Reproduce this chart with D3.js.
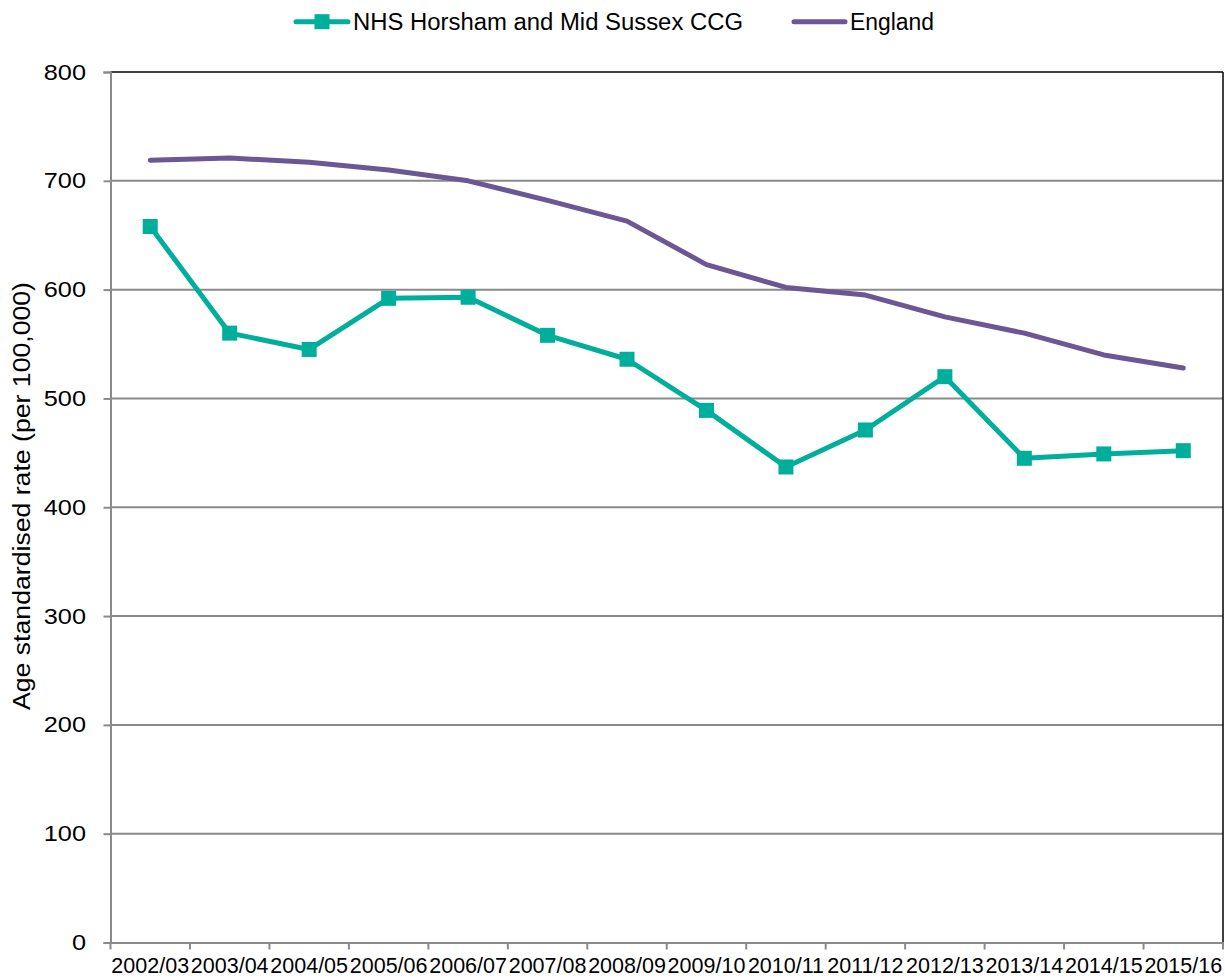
<!DOCTYPE html>
<html>
<head>
<meta charset="utf-8">
<script src="https://cdn.jsdelivr.net/npm/d3@7"></script>
<style>
  html, body { margin: 0; padding: 0; background: #fff; }
  svg { display: block; font-family: "Liberation Sans", Arial, sans-serif; }
</style>
</head>
<body>
<svg id="chart" width="1225" height="978"></svg>
<script>
const categories = ["2002/03","2003/04","2004/05","2005/06","2006/07","2007/08","2008/09","2009/10","2010/11","2011/12","2012/13","2013/14","2014/15","2015/16"];
const ccgValues = [658, 560, 545, 592, 593, 558, 536, 489, 437, 471, 520, 445, 449, 452];
const englandValues = [719, 721, 717, 710, 700, 682, 663, 623, 602, 595, 575, 560, 540, 528];
const yTicks = [0, 100, 200, 300, 400, 500, 600, 700, 800];
const seriesNames = ["NHS Horsham and Mid Sussex CCG", "England"];

(function () {
const teal = "#00ae9c";
const purple = "#6b5794";
const gridColor = "#8a8a8a";
const FONT = "'Liberation Sans', Arial, sans-serif";

const svg = d3.select("#chart");
const pLeft = 110.5, pRight = 1223, pTop = 72, pBottom = 942.5;

const x = d3.scaleBand().domain(categories).range([pLeft, pRight]).padding(0);
const y = d3.scaleLinear().domain([0, 800]).range([pBottom, pTop]);

function stretch(sel, f) {
  sel.each(function () {
    const len = this.getComputedTextLength();
    d3.select(this).attr("textLength", len * f).attr("lengthAdjust", "spacingAndGlyphs");
  });
}

// gridlines
svg.append("g").selectAll("line").data(yTicks.filter(d => d > 0 && d < 800)).join("line")
  .attr("x1", pLeft).attr("x2", pRight)
  .attr("y1", d => y(d)).attr("y2", d => y(d))
  .attr("stroke", gridColor).attr("stroke-width", 2);

// top and right border
svg.append("line").attr("x1", pLeft).attr("x2", pRight).attr("y1", pTop).attr("y2", pTop)
  .attr("stroke", "#000").attr("stroke-width", 1.5);
svg.append("line").attr("x1", pRight).attr("x2", pRight).attr("y1", pTop).attr("y2", pBottom)
  .attr("stroke", "#000").attr("stroke-width", 1.5);

// y axis
const yAxis = d3.axisLeft(y).tickValues(yTicks).tickSize(7).tickPadding(17.5).tickFormat(d3.format("d"));
const yg = svg.append("g").attr("transform", `translate(${pLeft},0)`).call(yAxis);
yg.attr("font-size", 22).attr("font-family", FONT);
yg.select(".domain").attr("stroke", gridColor).attr("stroke-width", 2);
yg.selectAll(".tick line").attr("stroke", gridColor).attr("stroke-width", 2);
yg.selectAll(".tick text").attr("fill", "#000");
stretch(yg.selectAll(".tick text"), 1.15);

// x axis
const xAxis = d3.axisBottom(x).tickSize(0).tickPadding(15.5);
const xg = svg.append("g").attr("transform", `translate(0,${pBottom})`).call(xAxis);
xg.attr("font-size", 21.5).attr("font-family", FONT);
xg.select(".domain").attr("stroke", gridColor).attr("stroke-width", 2);
xg.selectAll(".tick text").attr("fill", "#000");
// band boundary ticks
const bounds = categories.map(c => x(c)).concat([pRight]);
xg.append("g").selectAll("line").data(bounds).join("line")
  .attr("x1", d => d).attr("x2", d => d).attr("y1", 0).attr("y2", 7)
  .attr("stroke", gridColor).attr("stroke-width", 2);

// y title
const yt = svg.append("text")
  .attr("transform", `translate(30,496) rotate(-90)`)
  .attr("text-anchor", "middle")
  .attr("font-size", 23).attr("fill", "#000")
  .text("Age standardised rate (per 100,000)");
yt.attr("textLength", 428).attr("lengthAdjust", "spacingAndGlyphs");

const cx = c => x(c) + x.bandwidth() / 2;
const line = d3.line().x((d, i) => cx(categories[i])).y(d => y(d));

// England line
svg.append("path").datum(englandValues)
  .attr("d", line).attr("fill", "none")
  .attr("stroke", purple).attr("stroke-width", 5)
  .attr("stroke-linejoin", "round").attr("stroke-linecap", "round");

// CCG line
svg.append("path").datum(ccgValues)
  .attr("d", line).attr("fill", "none")
  .attr("stroke", teal).attr("stroke-width", 5)
  .attr("stroke-linejoin", "round");

const ms = 15;
svg.append("g").selectAll("rect").data(ccgValues).join("rect")
  .attr("x", (d, i) => cx(categories[i]) - ms / 2)
  .attr("y", d => y(d) - ms / 2)
  .attr("width", ms).attr("height", ms)
  .attr("fill", teal);

// legend
const lg = svg.append("g");
const ly = 21.7;
lg.append("line").attr("x1", 296).attr("x2", 348).attr("y1", ly).attr("y2", ly)
  .attr("stroke", teal).attr("stroke-width", 5).attr("stroke-linecap", "round");
lg.append("rect").attr("x", 322 - ms / 2).attr("y", ly - ms / 2).attr("width", ms).attr("height", ms).attr("fill", teal);
const t1 = lg.append("text").attr("x", 353).attr("y", ly).attr("dy", "0.35em")
  .attr("font-size", 23).attr("fill", "#000").text(seriesNames[0]);
t1.attr("textLength", 390).attr("lengthAdjust", "spacingAndGlyphs");
lg.append("line").attr("x1", 794).attr("x2", 845).attr("y1", ly).attr("y2", ly)
  .attr("stroke", purple).attr("stroke-width", 5).attr("stroke-linecap", "round");
const t2 = lg.append("text").attr("x", 850).attr("y", ly).attr("dy", "0.35em")
  .attr("font-size", 23).attr("fill", "#000").text(seriesNames[1]);
t2.attr("textLength", 84).attr("lengthAdjust", "spacingAndGlyphs");
})();
</script>
</body>
</html>
